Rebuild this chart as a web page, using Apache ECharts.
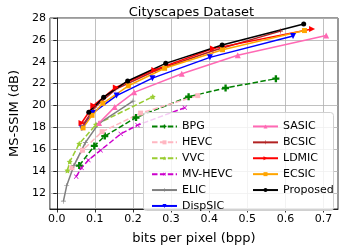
<!DOCTYPE html>
<html><head><meta charset="utf-8">
<script src="https://cdn.jsdelivr.net/npm/echarts@6/dist/echarts.min.js"></script>
<style>html,body{margin:0;padding:0;background:#fff}#c{width:342px;height:250px}</style>
</head><body><div id="c"></div>
<script>
const xTicks = [0.0, 0.1, 0.2, 0.3, 0.4, 0.5, 0.6, 0.7];
const yTicks = [12, 14, 16, 18, 20, 22, 24, 26, 28];

const bpgX = [0.059, 0.0985, 0.126, 0.208, 0.346, 0.443, 0.575];
const bpgY = [14.5, 16.3, 17.2, 18.9, 20.8, 21.6, 22.45];
const hevcX = [0.04, 0.0675, 0.119, 0.22, 0.37];
const hevcY = [14.3, 15.9, 17.6, 19.3, 20.9];
const vvcX = [0.028, 0.034, 0.059, 0.103, 0.252];
const vvcY = [14.05, 14.85, 16.5, 18.25, 20.8];
const mvhevcX = [0.051, 0.065, 0.083, 0.115, 0.168, 0.212, 0.336];
const mvhevcY = [13.5, 14.3, 15.0, 15.9, 17.4, 18.2, 19.8];
const elicX = [0.0175, 0.026, 0.045, 0.075, 0.11, 0.2];
const elicY = [11.25, 12.65, 14.5, 16.6, 18.35, 20.4];
const dispsicX = [0.066, 0.094, 0.157, 0.251, 0.402, 0.62];
const dispsicY = [17.95, 19.3, 20.9, 22.5, 24.4, 26.35];
const sasicX = [0.111, 0.152, 0.203, 0.328, 0.475, 0.707];
const sasicY = [18.4, 19.85, 21.2, 22.9, 24.6, 26.4];
const bcsicX = [0.07, 0.1, 0.155, 0.26, 0.41, 0.587];
const bcsicY = [18.3, 19.85, 21.5, 23.2, 25.0, 26.8];
const ldmicX = [0.065, 0.096, 0.155, 0.256, 0.41, 0.67];
const ldmicY = [18.4, 20.0, 21.65, 23.25, 25.2, 27.0];
const ecsicX = [0.069, 0.0925, 0.121, 0.188, 0.283, 0.435, 0.65];
const ecsicY = [17.95, 19.1, 20.2, 21.8, 23.4, 25.1, 26.85];
const propX = [0.084, 0.123, 0.186, 0.286, 0.434, 0.648];
const propY = [19.38, 20.76, 22.24, 23.85, 25.53, 27.45];

const FONT = 'DejaVu Sans';
const PLUS_FILLED = 'path://M-1,-3H1V-1H3V1H1V3H-1V1H-3V-1H-1Z';
const PLUS_THIN = 'path://M-0.35,-3H0.35V-0.35H3V0.35H0.35V3H-0.35V0.35H-3V-0.35H-0.35Z';
const STAR = 'path://M0,-3L0.88,-1.2L2.85,-0.93L1.43,0.46L1.76,2.43L0,1.5L-1.76,2.43L-1.43,0.46L-2.85,-0.93L-0.88,-1.2Z';

function zip(xs, ys) { return xs.map((x, i) => [x, ys[i]]); }
function mk(name, xs, ys, color, symbol, size, dashed, rotate) {
  return {
    name: name, type: 'line', data: zip(xs, ys),
    symbol: symbol, symbolSize: size, symbolRotate: rotate || 0,
    showSymbol: true, animation: false,
    lineStyle: { color: color, width: 1.5, type: dashed ? [5.5, 2.4] : 'solid' },
    itemStyle: { color: color, borderWidth: 0 },
    z: 2
  };
}

const series = [
  mk('BPG', bpgX, bpgY, '#008000', PLUS_FILLED, 7, true),
  mk('HEVC', hevcX, hevcY, '#FFB6C1', 'rect', 5, true),
  mk('VVC', vvcX, vvcY, '#9ACD32', STAR, 6, true),
  mk('MV-HEVC', mvhevcX, mvhevcY, '#CC00CC', PLUS_THIN, 6, true, 45),
  mk('ELIC', elicX, elicY, '#808080', PLUS_THIN, 5, false),
  mk('DispSIC', dispsicX, dispsicY, '#0000FF', 'triangle', 6, false, 180),
  mk('SASIC', sasicX, sasicY, '#FF69B4', 'triangle', 6, false),
  mk('BCSIC', bcsicX, bcsicY, '#B22222', PLUS_THIN, 5, false),
  mk('LDMIC', ldmicX, ldmicY, '#FF0000', 'triangle', 6, false, -90),
  mk('ECSIC', ecsicX, ecsicY, '#FFA500', 'rect', 5, false),
  mk('Proposed', propX, propY, '#000000', 'circle', 5, false)
];

const legendCommon = {
  orient: 'vertical', itemWidth: 25, itemHeight: 5, itemGap: 0,
  textStyle: { fontFamily: FONT, fontSize: 11, color: '#000', lineHeight: 15.9 },
  z: 5
};

const chart = echarts.init(document.getElementById('c'), null, { renderer: 'canvas' });
chart.setOption({
  animation: false,
  backgroundColor: '#fff',
  title: {
    text: 'Cityscapes Dataset', left: 186.5, top: 1, textAlign: 'center',
    textStyle: { fontFamily: FONT, fontSize: 13, fontWeight: 'normal', color: '#000' }
  },
  grid: { left: 35, right: 4, top: 18, bottom: 34, show: true, borderColor: '#000', borderWidth: 0.8, containLabel: false },
  xAxis: {
    type: 'value', min: -0.018, max: 0.738,
    name: 'bits per pixel (bpp)', nameLocation: 'middle', nameGap: 23,
    nameTextStyle: { fontFamily: FONT, fontSize: 13, color: '#000' },
    axisLine: { lineStyle: { color: '#000', width: 0.8 } },
    axisTick: { show: true, length: 3.5, lineStyle: { color: '#000', width: 0.8 }, customValues: xTicks },
    axisLabel: { fontFamily: FONT, fontSize: 11, color: '#000', margin: 5, customValues: xTicks,
      formatter: v => v.toFixed(1) },
    splitLine: { show: true, lineStyle: { color: '#b0b0b0', width: 0.8 } }
  },
  yAxis: {
    type: 'value', min: 10.53, max: 28,
    name: 'MS-SSIM (dB)', nameLocation: 'middle', nameGap: 22, nameRotate: 90,
    nameTextStyle: { fontFamily: FONT, fontSize: 13, color: '#000' },
    axisLine: { lineStyle: { color: '#000', width: 0.8 } },
    axisTick: { show: true, length: 3.5, lineStyle: { color: '#000', width: 0.8 }, customValues: yTicks },
    axisLabel: { fontFamily: FONT, fontSize: 11, color: '#000', margin: 4, customValues: yTicks },
    splitLine: { show: true, lineStyle: { color: '#b0b0b0', width: 0.8 } }
  },
  graphic: [{
    type: 'rect', z: 4, silent: true,
    shape: { x: 143.5, y: 112.5, width: 190, height: 98, r: 3 },
    style: { fill: 'rgba(255,255,255,0.8)', stroke: '#d0d0d0', lineWidth: 1 }
  }],
  legend: [
    Object.assign({}, legendCommon, { left: 146, top: 113.5, data: ['BPG', 'HEVC', 'VVC', 'MV-HEVC', 'ELIC', 'DispSIC'] }),
    Object.assign({}, legendCommon, { left: 247, top: 113.5, data: ['SASIC', 'BCSIC', 'LDMIC', 'ECSIC', 'Proposed'] })
  ],
  series: series
});
</script></body></html>
